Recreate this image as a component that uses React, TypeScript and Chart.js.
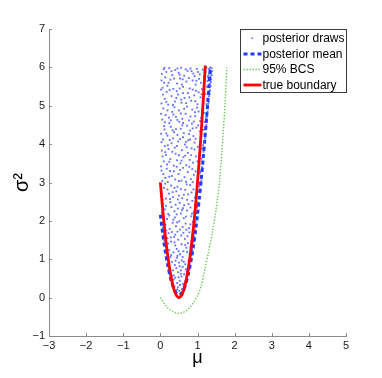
import React, { useEffect, useRef } from "react";
import { Chart, registerables } from "chart.js";

Chart.register(...registerables);

// ---------- data ----------
const xTickValues = [-3, -2, -1, 0, 1, 2, 3, 4, 5];
const yTickValues = [-1, 0, 1, 2, 3, 4, 5, 6, 7];

const seriesLabels = ["posterior draws", "posterior mean", "95% BCS", "true boundary"];

const boundaryMu = [0, 0.05, 0.1, 0.15, 0.2, 0.25, 0.3, 0.35, 0.4, 0.45, 0.5, 0.55, 0.6, 0.65, 0.7, 0.75, 0.8, 0.85, 0.9, 0.95, 1.0, 1.05, 1.1, 1.15, 1.2, 1.21];
const boundarySigma2 = [3.0, 2.43, 1.92, 1.47, 1.08, 0.75, 0.48, 0.27, 0.12, 0.03, 0, 0.03, 0.12, 0.27, 0.48, 0.75, 1.08, 1.47, 1.92, 2.43, 3.0, 3.63, 4.32, 5.07, 5.88, 6.05];

const meanMu = [0, 0.05, 0.1, 0.15, 0.2, 0.25, 0.3, 0.35, 0.4, 0.45, 0.5, 0.55, 0.6, 0.65, 0.7, 0.75, 0.8, 0.85, 0.9, 0.95, 1.0, 1.05, 1.1, 1.15, 1.2, 1.25, 1.3, 1.345];
const meanSigma2 = [2.16, 1.76, 1.41, 1.1, 0.83, 0.6, 0.41, 0.27, 0.16, 0.1, 0.08, 0.1, 0.16, 0.27, 0.41, 0.6, 0.83, 1.1, 1.41, 1.76, 2.16, 2.59, 3.07, 3.59, 4.15, 4.75, 5.39, 6.0];

const bcsMu = [0, 0.1, 0.2, 0.3, 0.4, 0.5, 0.6, 0.7, 0.8, 0.9, 1.0, 1.1, 1.2, 1.3, 1.4, 1.5, 1.6, 1.7, 1.75, 1.79];
const bcsSigma2 = [0, -0.15, -0.27, -0.35, -0.39, -0.41, -0.39, -0.34, -0.25, -0.12, 0.05, 0.3, 0.75, 1.2, 1.7, 2.3, 3.1, 4.4, 5.2, 6.0];

// posterior draws: [mu, sigma^2]
const posteriorDraws: [number, number][] = [
  [0.42, 0.12], [0.51, 0.18], [0.47, 0.27], [0.58, 0.22], [0.63, 0.31], [0.38, 0.29], [0.55, 0.09],
  [0.33, 0.41], [0.45, 0.38], [0.52, 0.44], [0.61, 0.36], [0.69, 0.47], [0.4, 0.52], [0.57, 0.55],
  [0.28, 0.63], [0.36, 0.58], [0.48, 0.66], [0.55, 0.71], [0.64, 0.61], [0.72, 0.68], [0.43, 0.77], [0.6, 0.8],
  [0.22, 0.88], [0.31, 0.93], [0.39, 0.85], [0.5, 0.91], [0.58, 0.97], [0.67, 0.87], [0.76, 0.95], [0.82, 1.02], [0.45, 1.04], [0.27, 1.06],
  [0.17, 1.15], [0.24, 1.24], [0.35, 1.18], [0.44, 1.27], [0.53, 1.13], [0.62, 1.21], [0.7, 1.3], [0.79, 1.16], [0.86, 1.25], [0.4, 1.36], [0.57, 1.39], [0.74, 1.42],
  [0.11, 1.48], [0.19, 1.55], [0.29, 1.46], [0.37, 1.58], [0.48, 1.51], [0.56, 1.62], [0.66, 1.53], [0.73, 1.6], [0.84, 1.49], [0.91, 1.57], [0.22, 1.68], [0.46, 1.72], [0.78, 1.7],
  [0.06, 1.82], [0.14, 1.9], [0.25, 1.79], [0.33, 1.95], [0.42, 1.86], [0.51, 1.99], [0.6, 1.84], [0.68, 1.93], [0.77, 1.81], [0.88, 1.97], [0.95, 1.88], [0.18, 2.05], [0.39, 2.09], [0.63, 2.07], [0.83, 2.12],
  [0.04, 2.21], [0.12, 2.3], [0.21, 2.18], [0.3, 2.36], [0.38, 2.25], [0.47, 2.32], [0.55, 2.19], [0.64, 2.41], [0.72, 2.27], [0.81, 2.35], [0.9, 2.23], [0.97, 2.38], [0.08, 2.44], [0.27, 2.49], [0.52, 2.47], [0.86, 2.52],
  [0.03, 2.63], [0.15, 2.58], [0.23, 2.71], [0.34, 2.62], [0.43, 2.77], [0.5, 2.66], [0.59, 2.59], [0.67, 2.81], [0.75, 2.69], [0.84, 2.74], [0.93, 2.61], [1.02, 2.78], [0.1, 2.86], [0.29, 2.92], [0.46, 2.89], [0.71, 2.95], [0.98, 2.9],
  [0.05, 3.04], [0.13, 3.12], [0.2, 3.01], [0.31, 3.17], [0.4, 3.08], [0.49, 3.22], [0.57, 3.05], [0.65, 3.14], [0.74, 3.27], [0.82, 3.09], [0.9, 3.2], [1.0, 3.11], [1.07, 3.25], [0.26, 3.3], [0.53, 3.33], [0.86, 3.35],
  [0.02, 3.42], [0.09, 3.55], [0.18, 3.47], [0.27, 3.61], [0.36, 3.44], [0.45, 3.58], [0.54, 3.5], [0.62, 3.66], [0.7, 3.45], [0.79, 3.59], [0.88, 3.52], [0.96, 3.68], [1.05, 3.48], [1.11, 3.62], [0.15, 3.72], [0.41, 3.75], [0.67, 3.7],
  [0.04, 3.83], [0.12, 3.95], [0.22, 3.87], [0.3, 4.02], [0.39, 3.91], [0.48, 4.07], [0.58, 3.84], [0.66, 3.99], [0.75, 4.1], [0.84, 3.89], [0.92, 4.04], [1.01, 3.93], [1.09, 4.08], [1.15, 3.97], [0.07, 4.12], [0.34, 4.15], [0.61, 4.18],
  [0.02, 4.27], [0.11, 4.38], [0.19, 4.22], [0.28, 4.45], [0.37, 4.31], [0.46, 4.24], [0.55, 4.4], [0.63, 4.29], [0.72, 4.48], [0.8, 4.35], [0.89, 4.21], [0.97, 4.43], [1.06, 4.33], [1.13, 4.46], [1.19, 4.26], [0.24, 4.55], [0.51, 4.58], [0.85, 4.53],
  [0.05, 4.64], [0.14, 4.76], [0.23, 4.69], [0.32, 4.84], [0.42, 4.71], [0.5, 4.88], [0.59, 4.66], [0.68, 4.79], [0.77, 4.62], [0.86, 4.9], [0.94, 4.73], [1.03, 4.85], [1.1, 4.68], [1.17, 4.81], [1.23, 4.7], [0.08, 4.93], [0.38, 4.96], [0.72, 4.98],
  [0.03, 5.06], [0.12, 5.18], [0.21, 5.03], [0.3, 5.25], [0.39, 5.11], [0.48, 5.29], [0.57, 5.08], [0.65, 5.2], [0.74, 5.33], [0.83, 5.13], [0.91, 5.27], [1.0, 5.04], [1.08, 5.22], [1.15, 5.1], [1.21, 5.31], [1.27, 5.16], [0.17, 5.36], [0.44, 5.38], [0.96, 5.39],
  [0.06, 5.47], [0.1, 5.6], [0.19, 5.52], [0.27, 5.68], [0.35, 5.44], [0.45, 5.58], [0.53, 5.71], [0.61, 5.49], [0.7, 5.63], [0.79, 5.45], [0.87, 5.66], [0.95, 5.55], [1.04, 5.7], [1.12, 5.43], [1.19, 5.61], [1.25, 5.5], [1.3, 5.67], [1.33, 5.57], [1.28, 5.74],
  [0.04, 5.83], [0.09, 5.95], [0.16, 5.88], [0.24, 5.98], [0.32, 5.8], [0.4, 5.93], [0.49, 5.86], [0.56, 5.99], [0.64, 5.78], [0.73, 5.91], [0.81, 5.97], [0.89, 5.84], [0.98, 5.96], [1.06, 5.82], [1.14, 5.94], [1.22, 5.87], [1.29, 5.79], [1.33, 5.92], [1.36, 5.85], [1.38, 5.98], [1.31, 5.96], [1.35, 5.76],
  [1.36, 5.62], [1.34, 5.4], [1.31, 5.25], [1.29, 5.05], [1.27, 4.85], [1.25, 4.6], [1.22, 4.4], [1.2, 4.15], [1.17, 3.9], [1.14, 3.7], [1.12, 3.4], [1.09, 3.15], [1.05, 2.9], [1.03, 2.6], [0.99, 2.35], [0.96, 2.1], [0.93, 1.85], [0.9, 1.6], [0.87, 1.35], [0.83, 1.1], [0.79, 0.85], [0.75, 0.62], [0.7, 0.4], [0.65, 0.22],
  [0.06, 2.1], [0.09, 1.7], [0.12, 1.35], [0.16, 1.0], [0.22, 0.72], [0.27, 0.5], [0.33, 0.3], [0.4, 0.15],
  [0.45, 0.21], [0.61, 0.14], [0.36, 0.47], [0.49, 0.53], [0.66, 0.42], [0.53, 0.33], [0.71, 0.57], [0.31, 0.56],
  [0.25, 0.79], [0.34, 0.71], [0.52, 0.82], [0.69, 0.74], [0.78, 0.81], [0.41, 0.96], [0.63, 0.93], [0.2, 0.98], [0.55, 0.62],
  [0.15, 1.32], [0.29, 1.11], [0.38, 1.44], [0.49, 1.21], [0.6, 1.06], [0.67, 1.37], [0.81, 1.33], [0.89, 1.45], [0.21, 1.41], [0.72, 1.19], [0.46, 1.09],
  [0.09, 1.63], [0.16, 1.75], [0.31, 1.71], [0.4, 1.64], [0.53, 1.77], [0.62, 1.69], [0.7, 1.77], [0.87, 1.66], [0.94, 1.76], [0.28, 1.57], [0.81, 1.91], [0.45, 1.96],
  [0.03, 2.12], [0.1, 2.01], [0.24, 2.14], [0.35, 2.03], [0.44, 2.17], [0.58, 2.28], [0.69, 2.11], [0.76, 2.44], [0.85, 2.19], [0.93, 2.42], [0.15, 2.39], [0.41, 2.42], [0.61, 2.33], [0.99, 2.24],
  [0.06, 2.55], [0.19, 2.82], [0.26, 2.57], [0.38, 2.86], [0.47, 2.56], [0.55, 2.83], [0.63, 2.68], [0.8, 2.93], [0.89, 2.82], [0.96, 2.7], [1.05, 2.97], [0.13, 2.97], [0.72, 2.55], [0.33, 2.75],
  [0.08, 3.22], [0.17, 3.36], [0.24, 3.15], [0.36, 3.29], [0.44, 3.41], [0.61, 3.38], [0.69, 3.02], [0.78, 3.41], [0.95, 3.29], [1.03, 3.38], [1.1, 3.05], [0.03, 3.31], [0.5, 3.04], [0.87, 3.01],
  [0.06, 3.68], [0.13, 3.79], [0.24, 3.54], [0.32, 3.8], [0.5, 3.71], [0.57, 3.57], [0.74, 3.77], [0.83, 3.71], [0.92, 3.86], [1.0, 3.55], [1.07, 3.79], [1.13, 3.88], [0.45, 3.95], [0.71, 3.92], [0.2, 3.97],
  [0.03, 4.05], [0.16, 4.28], [0.25, 4.11], [0.42, 4.39], [0.53, 4.13], [0.59, 4.49], [0.69, 4.06], [0.77, 4.26], [0.87, 4.41], [0.95, 4.14], [1.02, 4.49], [1.1, 4.2], [1.16, 4.37], [0.1, 4.47], [0.33, 4.36], [0.8, 4.12],
  [0.02, 4.79], [0.19, 4.88], [0.28, 4.62], [0.35, 4.77], [0.46, 4.63], [0.55, 4.8], [0.64, 4.92], [0.81, 4.72], [0.9, 4.59], [0.99, 4.95], [1.07, 4.6], [1.14, 4.92], [1.2, 4.58], [0.12, 4.57], [0.61, 4.55], [0.93, 4.83],
  [0.07, 5.29], [0.16, 5.1], [0.25, 5.41], [0.34, 5.02], [0.43, 5.2], [0.52, 5.45], [0.61, 5.33], [0.69, 5.07], [0.78, 5.22], [0.87, 5.42], [0.94, 5.12], [1.03, 5.35], [1.11, 5.3], [1.18, 5.45], [1.24, 5.04], [1.3, 5.38], [0.02, 5.42], [0.56, 5.16],
  [0.03, 5.66], [0.13, 5.74], [0.22, 5.6], [0.3, 5.9], [0.37, 5.71], [0.46, 5.97], [0.52, 5.81], [0.6, 5.69], [0.68, 5.95], [0.77, 5.72], [0.84, 5.9], [0.92, 5.77], [1.01, 5.88], [1.09, 5.6], [1.17, 5.76], [1.24, 5.99], [1.27, 5.64], [1.32, 5.84], [1.37, 5.69], [1.39, 5.9], [1.34, 6.0], [0.11, 5.99], [0.58, 5.55], [0.97, 5.65],
  [1.38, 5.8], [1.35, 5.5], [1.33, 5.3], [1.3, 5.1], [1.28, 4.95], [1.26, 4.72], [1.24, 4.5], [1.21, 4.28], [1.18, 4.05], [1.16, 3.8], [1.13, 3.55], [1.1, 3.3], [1.07, 3.0], [1.04, 2.75], [1.01, 2.48], [0.98, 2.2], [0.95, 1.98], [0.92, 1.72], [0.88, 1.5], [0.85, 1.22], [0.81, 0.98], [0.77, 0.72], [0.72, 0.5], [0.68, 0.3], [0.6, 0.08],
];

// ---------- styles ----------
const FONT = "'Liberation Sans', Arial, Helvetica, sans-serif";
const AXIS_COLOR = "#8c8c8c";
const DRAW_COLOR = "rgba(45,65,255,0.75)";
const MEAN_COLOR = "#1f3cff";
const BCS_COLOR = "#6cc858";
const TRUE_COLOR = "#ff0000";

const minus = (v: number | string) => String(v).replace("-", "\u2212");

const inwardTicks = {
  id: "inwardTicks",
  afterDraw(chart: any) {
    const { ctx, chartArea } = chart;
    const xs = chart.scales.x;
    const ys = chart.scales.y;
    ctx.save();
    ctx.strokeStyle = AXIS_COLOR;
    ctx.lineWidth = 1;
    ctx.beginPath();
    xTickValues.forEach((v) => {
      const px = Math.round(xs.getPixelForValue(v)) + 0.5;
      ctx.moveTo(px, chartArea.bottom);
      ctx.lineTo(px, chartArea.bottom - 3);
    });
    yTickValues.forEach((v) => {
      const py = Math.round(ys.getPixelForValue(v)) + 0.5;
      ctx.moveTo(chartArea.left, py);
      ctx.lineTo(chartArea.left + 3, py);
    });
    ctx.stroke();
    ctx.restore();
  },
};

const boxLegend = {
  id: "boxLegend",
  afterDraw(chart: any) {
    const { ctx, chartArea } = chart;
    const w = 106;
    const h = 63;
    const x0 = chartArea.right - w + 0.5;
    const y0 = chartArea.top + 0.5;
    ctx.save();
    ctx.fillStyle = "#ffffff";
    ctx.fillRect(x0, y0, w, h);
    ctx.strokeStyle = "#3a3a3a";
    ctx.lineWidth = 1;
    ctx.strokeRect(x0, y0, w, h);
    ctx.font = `12px ${FONT}`;
    ctx.textBaseline = "middle";
    ctx.textAlign = "left";
    const rowY = [9, 24.5, 40, 55.5];
    chart.data.datasets.forEach((ds: any, i: number) => {
      const cy = y0 + rowY[i];
      const sx = x0 + 3;
      const ex = x0 + 21;
      ctx.save();
      if (i === 0) {
        ctx.fillStyle = ds.backgroundColor;
        ctx.fillRect(x0 + 11, cy - 1, 1.6, 1.6);
      } else {
        ctx.strokeStyle = ds.borderColor;
        ctx.lineWidth = ds.borderWidth;
        ctx.setLineDash(ds.borderDash || []);
        ctx.beginPath();
        ctx.moveTo(sx, cy);
        ctx.lineTo(ex, cy);
        ctx.stroke();
      }
      ctx.restore();
      ctx.fillStyle = "#000000";
      ctx.fillText(ds.label, x0 + 22, cy + 0.5);
    });
    ctx.restore();
  },
};

export default function App() {
  const canvasRef = useRef<HTMLCanvasElement | null>(null);

  useEffect(() => {
    if (!canvasRef.current) return;
    const toPts = (xs: number[], ys: number[]) => xs.map((x, i) => ({ x, y: ys[i] }));
    const chart = new Chart(canvasRef.current, {
      type: "scatter",
      data: {
        datasets: [
          {
            label: seriesLabels[0],
            data: posteriorDraws.map(([x, y]) => ({ x, y })),
            pointStyle: "rect",
            pointRadius: 1.3,
            pointBorderWidth: 0,
            backgroundColor: DRAW_COLOR,
            borderColor: DRAW_COLOR,
            showLine: false,
            order: 4,
          },
          {
            label: seriesLabels[1],
            data: toPts(meanMu, meanSigma2),
            showLine: true,
            borderColor: MEAN_COLOR,
            backgroundColor: MEAN_COLOR,
            borderWidth: 3,
            borderDash: [4, 3],
            pointRadius: 0,
            tension: 0.3,
            order: 3,
          },
          {
            label: seriesLabels[2],
            data: toPts(bcsMu, bcsSigma2),
            showLine: true,
            borderColor: BCS_COLOR,
            backgroundColor: BCS_COLOR,
            borderWidth: 1.4,
            borderDash: [1.4, 1.6],
            pointRadius: 0,
            tension: 0.3,
            order: 2,
          },
          {
            label: seriesLabels[3],
            data: toPts(boundaryMu, boundarySigma2),
            showLine: true,
            borderColor: TRUE_COLOR,
            backgroundColor: TRUE_COLOR,
            borderWidth: 2.8,
            pointRadius: 0,
            tension: 0.3,
            order: 1,
          },
        ] as any,
      },
      options: {
        animation: false,
        responsive: false,
        devicePixelRatio: 1,
        layout: { padding: { top: 29, right: 36, left: 0, bottom: 0 } },
        plugins: {
          legend: { display: false },
          tooltip: { enabled: false },
        },
        scales: {
          x: {
            type: "linear",
            min: -3,
            max: 5,
            afterFit: (s: any) => {
              s.height = 42;
            },
            afterBuildTicks: (s: any) => {
              s.ticks = xTickValues.map((v) => ({ value: v }));
            },
            ticks: {
              padding: 3,
              color: "#1a1a1a",
              font: { family: FONT, size: 11 },
              callback: (v: any) => minus(v),
            },
            grid: { display: false, drawTicks: false },
            border: { display: true, color: AXIS_COLOR, width: 1 },
            title: {
              display: true,
              text: "μ",
              color: "#000",
              font: { family: FONT, size: 18 },
              padding: { top: 0, bottom: 9 },
            },
          },
          y: {
            type: "linear",
            min: -1,
            max: 7,
            afterFit: (s: any) => {
              s.width = 49;
            },
            afterBuildTicks: (s: any) => {
              s.ticks = yTickValues.map((v) => ({ value: v }));
            },
            ticks: {
              padding: 4,
              color: "#1a1a1a",
              font: { family: FONT, size: 11 },
              callback: (v: any) => minus(v),
            },
            grid: { display: false, drawTicks: false },
            border: { display: true, color: AXIS_COLOR, width: 1 },
            title: {
              display: true,
              text: "σ²",
              color: "#000",
              font: { family: FONT, size: 20 },
              padding: { top: 10, bottom: 0 },
            },
          },
        },
      },
      plugins: [inwardTicks, boxLegend],
    });
    return () => chart.destroy();
  }, []);

  return (
    <div style={{ position: "fixed", left: 0, top: 0, width: 382, height: 378, background: "#fff" }}>
      <canvas ref={canvasRef} width={382} height={378} />
    </div>
  );
}
